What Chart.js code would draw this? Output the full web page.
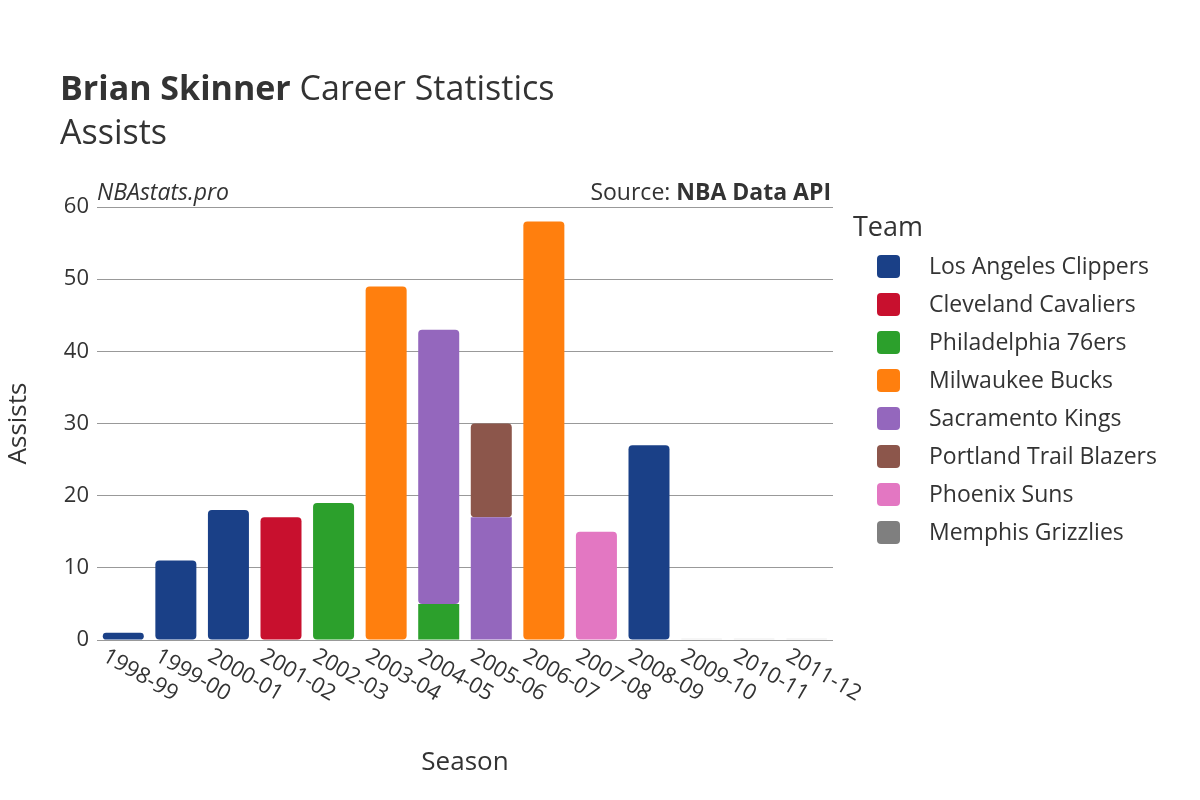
<!DOCTYPE html>
<html><head><meta charset="utf-8">
<script src="https://cdn.jsdelivr.net/npm/chart.js@4"></script>
<style>html,body{margin:0;background:#fff}#c{display:block}</style>
</head><body>
<canvas id="c" width="1200" height="800" style="width:1200px;height:800px"></canvas>
<script>
// seasons on the x axis
const seasons = ["1998-99","1999-00","2000-01","2001-02","2002-03","2003-04","2004-05","2005-06","2006-07","2007-08","2008-09","2009-10","2010-11","2011-12"];
const yTicks = [0,10,20,30,40,50,60];

// assists per team per season
const lac = [1,11,18,0,0,0,0,0,0,0,27,0,0,0];
const cle = [0,0,0,17,0,0,0,0,0,0,0,0,0,0];
const phi = [0,0,0,0,19,0,5,0,0,0,0,0,0,0];
const mil = [0,0,0,0,0,49,0,0,58,0,0,0,0,0];
const sac = [0,0,0,0,0,0,38,17,0,0,0,0,0,0];
const por = [0,0,0,0,0,0,0,13,0,0,0,0,0,0];
const phx = [0,0,0,0,0,0,0,0,0,15,0,0,0,0];
const mem = [0,0,0,0,0,0,0,0,0,0,0,0.2,0.2,0.2];

const teams = [
  ["Los Angeles Clippers", lac, "#1a4087"],
  ["Cleveland Cavaliers", cle, "#c8102e"],
  ["Philadelphia 76ers", phi, "#2ca02c"],
  ["Milwaukee Bucks", mil, "#ff7f0e"],
  ["Sacramento Kings", sac, "#9467bd"],
  ["Portland Trail Blazers", por, "#8c564b"],
  ["Phoenix Suns", phx, "#e377c2"],
  ["Memphis Grizzlies", mem, "#eeeeee"]
];
const legendColors = {"Memphis Grizzlies":"#7f7f7f"};

const FONT = "'Open Sans', 'DejaVu Sans', sans-serif";

const extras = {
  id: "extras",
  afterDraw(chart) {
    const ctx = chart.ctx, x = chart.scales.x, a = chart.chartArea;
    ctx.save();
    ctx.fillStyle = "#333";
    ctx.textBaseline = "alphabetic";
    ctx.font = "bold 34px " + FONT;
    ctx.fillText("Brian Skinner", 60, 100);
    const w = ctx.measureText("Brian Skinner ").width;
    ctx.font = "34px " + FONT;
    ctx.fillText("Career Statistics", 60 + w, 100);
    ctx.fillText("Assists", 60, 144);
    ctx.font = "italic 23px " + FONT;
    ctx.fillText("NBAstats.pro", 97, 200);
    ctx.textAlign = "right";
    ctx.font = "bold 23px " + FONT;
    ctx.fillText("NBA Data API", 831, 200);
    const bw = ctx.measureText("NBA Data API").width;
    ctx.font = "23px " + FONT;
    ctx.fillText("Source: ", 831 - bw, 200);
    // x tick labels rotated down-right
    ctx.textAlign = "left";
    ctx.font = "22px " + FONT;
    seasons.forEach((s, i) => {
      ctx.save();
      ctx.translate(x.getPixelForValue(i) - 22, 660);
      ctx.rotate(Math.PI / 6);
      ctx.fillText(s, 0, 0);
      ctx.restore();
    });
    // axis titles
    ctx.textAlign = "center";
    ctx.font = "26px " + FONT;
    ctx.fillText("Season", (a.left + a.right) / 2, 770);
    ctx.save();
    ctx.translate(26, (a.top + a.bottom) / 2);
    ctx.rotate(-Math.PI / 2);
    ctx.fillText("Assists", 0, 0);
    ctx.restore();
    // legend
    ctx.textAlign = "left";
    ctx.font = "27px " + FONT;
    ctx.fillText("Team", 853, 236);
    ctx.font = "23px " + FONT;
    teams.forEach(([name, , col], i) => {
      const y = 266 + i * 38;
      ctx.fillStyle = legendColors[name] || col;
      ctx.beginPath();
      ctx.roundRect(877, y - 11, 23, 23, 4);
      ctx.fill();
      ctx.fillStyle = "#333";
      ctx.textBaseline = "middle";
      ctx.fillText(name, 929, y + 1);
    });
    ctx.restore();
  }
};

new Chart(document.getElementById("c"), {
  type: "bar",
  data: {
    labels: seasons,
    datasets: teams.map(([name, vals, col]) => ({
      label: name, data: vals, backgroundColor: col,
      borderRadius: 4, borderSkipped: false,
      barPercentage: 0.78, categoryPercentage: 1
    }))
  },
  options: {
    responsive: false,
    animation: false,
    layout: { padding: { top: 207, left: 0, right: 367, bottom: 0 } },
    plugins: { legend: { display: false }, tooltip: { enabled: false } },
    scales: {
      x: {
        stacked: true,
        grid: { display: false },
        border: { display: false },
        ticks: { display: false },
        afterFit(s) { s.height = 160; }
      },
      y: {
        stacked: true, min: 0, max: 60,
        afterBuildTicks(s) { s.ticks = yTicks.map(v => ({ value: v })); },
        afterFit(s) { s.width = 97; },
        grid: { color: "#999", lineWidth: 1, drawTicks: false },
        border: { display: false },
        ticks: { color: "#333", font: { size: 22, family: FONT }, padding: 8 }
      }
    }
  },
  plugins: [extras]
});
</script>
</body></html>
